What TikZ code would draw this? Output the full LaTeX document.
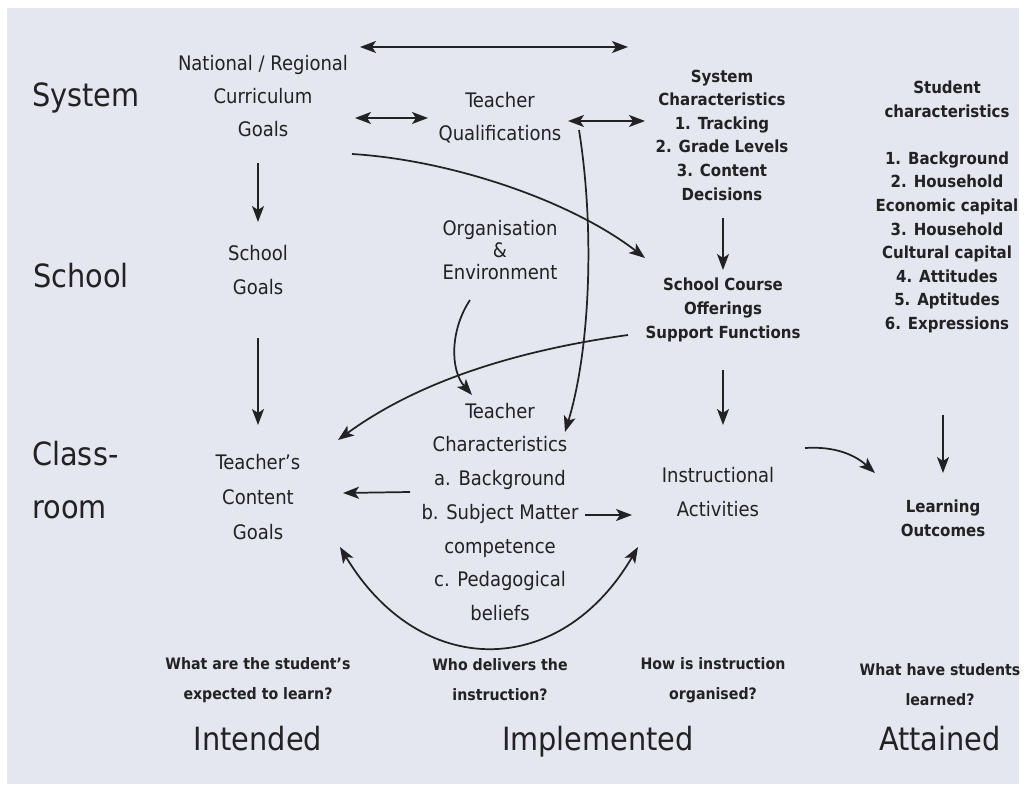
\documentclass[tikz,border=0pt]{standalone}
\usepackage{fontspec}
\setmainfont{DejaVu Sans Condensed}
\usetikzlibrary{arrows.meta,calc}
\definecolor{bg}{RGB}{228,231,239}
\definecolor{ink}{RGB}{34,34,36}
\begin{document}
\begin{tikzpicture}[x=0.75pt,y=-0.75pt,
  every node/.style={inner sep=0pt, align=center, text=ink},
  biglbl/.style={font=\fontsize{24}{40}\selectfont},
  midtxt/.style={font=\fontsize{15}{25}\selectfont},
  smltxt/.style={font=\bfseries\fontsize{12.5}{17.7}\selectfont},
  qsttxt/.style={font=\bfseries\fontsize{11.8}{22.5}\selectfont},
  arr/.style={draw=ink, line width=1.3pt, -{Stealth[length=12pt,width=9pt,inset=3pt]}},
  darr/.style={draw=ink, line width=1.3pt, {Stealth[length=12pt,width=9pt,inset=3pt]}-{Stealth[length=12pt,width=9pt,inset=3pt]}},
]
\fill[white] (0,0) rectangle (1030,798);
\fill[bg] (7,8) rectangle (1019,784);
\useasboundingbox (0,0) rectangle (1030,798);

% level labels
\node[biglbl, anchor=base west] (lsys) at (32,107) {System};
\node[biglbl, anchor=base west] (lsch) at (33,287) {School};
\node[biglbl, anchor=base west] (lcls) at (32,465) {Class-};
\node[biglbl, anchor=base west] (lroom) at (32,518) {room};

% main blocks
\node[midtxt] (nrc) at (263,96) {National / Regional\\Curriculum\\Goals};
\node[midtxt] (tq) at (500,118) {Teacher\\Qualifications};
\node[smltxt] (sc) at (722,135) {System\\Characteristics\\1. Tracking\\2. Grade Levels\\3. Content\\Decisions};
\node[smltxt] (stud) at (947,207) {Student\\characteristics\\[17.7pt]1. Background\\2. Household\\Economic capital\\3. Household\\Cultural capital\\4. Attitudes\\5. Aptitudes\\6. Expressions};
\node[midtxt] (sg) at (258,270) {School\\Goals};
\node[midtxt, font=\fontsize{15}{16.5}\selectfont] (org) at (500,250) {Organisation\\\&\\Environment};
\node[smltxt] (sco) at (723,310) {School Course\\Offerings\\Support Functions};
\node[midtxt, font=\fontsize{15}{25.3}\selectfont] (tc) at (500,512) {Teacher\\Characteristics\\a. Background\\b. Subject Matter\\competence\\c. Pedagogical\\beliefs};
\node[midtxt, font=\fontsize{15}{26}\selectfont] (tcg) at (258,497) {Teacher's\\Content\\Goals};
\node[midtxt] (ia) at (718,492) {Instructional\\Activities};
\node[smltxt] (lo) at (943,518) {Learning\\Outcomes};

% questions
\node[qsttxt] (q1) at (258,680) {What are the student's\\expected to learn?};
\node[qsttxt] (q2) at (500,680) {Who delivers the\\instruction?};
\node[qsttxt] (q3) at (713,680) {How is instruction\\organised?};
\node[qsttxt] (q4) at (940,685) {What have students\\learned?};

% column labels
\node[biglbl, anchor=base] (lint) at (258,750) {Intended};
\node[biglbl, anchor=base] (limp) at (598,750) {Implemented};
\node[biglbl, anchor=base] (latt) at (940,750) {Attained};

% straight arrows
\draw[arr] ($(nrc)+(-5,67)$) -- ($(sg)+(0,-48)$);
\draw[arr] ($(sg)+(0,68)$) -- ($(tcg)+(0,-72)$);
\draw[arr] ($(sc)+(1,83)$) -- ($(sco)+(0,-40)$);
\draw[arr] ($(sco)+(0,60)$) -- ($(ia)+(5,-67)$);
\draw[arr] ($(stud)+(-4,208)$) -- ($(lo)+(0,-45)$);
\draw[darr] ($(nrc)+(97,-49)$) -- ($(sc)+(-94,-88)$);
\draw[darr] ($(nrc)+(92,22)$) -- ($(tq)+(-72,0)$);
\draw[darr] ($(tq)+(68,3)$) -- ($(sc)+(-77,-14)$);
\draw[arr] ($(tc)+(-90,-20)$) -- ($(tcg)+(85,-4)$);
\draw[arr] ($(tc)+(85,3)$) -- ($(ia)+(-86,23)$);

% curved arrows
\draw[arr] ($(nrc)+(89,58)$) .. controls ($(nrc)+(187,64)$) and ($(sco)+(-153,-110)$) .. ($(sco)+(-78,-52)$);
\draw[arr] ($(tq)+(79,12)$) .. controls ($(tq)+(95,112)$) and ($(tc)+(90,-162)$) .. ($(tc)+(65,-80)$);
\draw[arr] ($(org)+(-30,50)$) .. controls ($(org)+(-50,80)$) and ($(tc)+(-50,-142)$) .. ($(tc)+(-28,-117)$);
\draw[arr] ($(sco)+(-95,25)$) .. controls ($(sco)+(-203,40)$) and ($(tcg)+(162,-117)$) .. ($(tcg)+(80,-57)$);
\draw[darr] ($(tcg)+(82,50)$) .. controls ($(tcg)+(162,183)$) and ($(ia)+(-158,188)$) .. ($(ia)+(-80,55)$);
\draw[arr] ($(ia)+(87,-44)$) .. controls ($(ia)+(117,-46)$) and ($(lo)+(-88,-63)$) .. ($(lo)+(-68,-45)$);
\end{tikzpicture}
\end{document}
